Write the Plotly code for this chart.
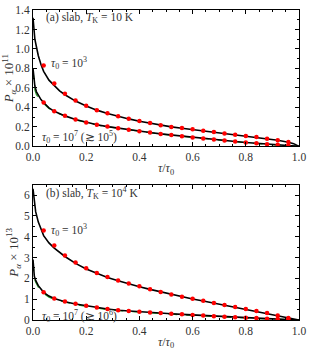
import plotly.graph_objects as go

# ---------------- data ----------------
# panel (a): P_alpha x 1e11, T_K = 10 K
a_curve_x = [0.0, 0.003, 0.007, 0.013, 0.02, 0.03, 0.04, 0.06, 0.08, 0.10, 0.12, 0.16, 0.20,
             0.24, 0.28, 0.32, 0.36, 0.40, 0.44, 0.48, 0.52, 0.56, 0.60, 0.64, 0.68, 0.72,
             0.76, 0.80, 0.84, 0.88, 0.92, 0.96, 0.98, 1.0]
a_hi_curve = [1.32, 1.20, 1.10, 1.02, 0.93, 0.84, 0.77, 0.68, 0.62, 0.57, 0.53, 0.465, 0.415,
              0.372, 0.338, 0.308, 0.282, 0.258, 0.238, 0.218, 0.200, 0.186, 0.172, 0.158, 0.145, 0.132,
              0.119, 0.106, 0.093, 0.078, 0.062, 0.042, 0.028, 0.0]
a_lo_curve = [0.80, 0.70, 0.62, 0.56, 0.52, 0.48, 0.45, 0.395, 0.36, 0.335, 0.313, 0.275, 0.245,
              0.222, 0.203, 0.186, 0.170, 0.155, 0.142, 0.128, 0.116, 0.104, 0.092, 0.081, 0.070, 0.060,
              0.050, 0.040, 0.031, 0.023, 0.015, 0.008, 0.004, 0.0]
a_green = [0.78, 0.66, 0.58, 0.53, 0.50, 0.47, 0.44, 0.39, 0.357, 0.333, 0.311, 0.273, 0.243,
           0.220, 0.201, 0.184, 0.168, 0.153, 0.140, 0.126, 0.114, 0.102, 0.090, 0.079, 0.068, 0.058,
           0.048, 0.038, 0.029, 0.021, 0.013, 0.006, 0.003, 0.0]

pts_x = [0.04, 0.08, 0.12, 0.16, 0.20, 0.24, 0.28, 0.32, 0.36, 0.40, 0.44, 0.48,
         0.52, 0.56, 0.60, 0.64, 0.68, 0.72, 0.76, 0.80, 0.84, 0.88, 0.92, 0.96]
a_hi_pts = [0.83, 0.645, 0.54, 0.47, 0.417, 0.37, 0.34, 0.31, 0.283, 0.26, 0.24, 0.217,
            0.200, 0.188, 0.175, 0.160, 0.148, 0.133, 0.120, 0.107, 0.095, 0.078, 0.063, 0.045]
a_lo_pts = [0.45, 0.36, 0.315, 0.275, 0.245, 0.222, 0.203, 0.186, 0.170, 0.155, 0.142, 0.128,
            0.116, 0.104, 0.092, 0.081, 0.070, 0.060, 0.050, 0.040, 0.031, 0.023, 0.016, 0.009]

# panel (b): P_alpha x 1e13, T_K = 1e4 K
b_curve_x = [0.0, 0.002, 0.005, 0.01, 0.02, 0.04, 0.06, 0.08, 0.12, 0.16, 0.20, 0.24, 0.28,
             0.32, 0.36, 0.40, 0.44, 0.48, 0.52, 0.56, 0.60, 0.64, 0.68, 0.72, 0.76, 0.80,
             0.84, 0.88, 0.92, 0.96, 1.0]
b_hi_curve = [6.3, 6.0, 5.7, 5.2, 4.7, 4.05, 3.70, 3.45, 3.05, 2.72, 2.45, 2.23, 2.04,
              1.88, 1.73, 1.60, 1.47, 1.35, 1.23, 1.12, 1.01, 0.91, 0.81, 0.72, 0.62, 0.53,
              0.43, 0.33, 0.22, 0.11, 0.0]
b_lo_curve = [2.9, 2.4, 2.1, 1.9, 1.65, 1.33, 1.15, 1.03, 0.88, 0.77, 0.68, 0.60, 0.53,
              0.47, 0.43, 0.39, 0.36, 0.33, 0.30, 0.27, 0.24, 0.21, 0.185, 0.16, 0.135, 0.11,
              0.09, 0.065, 0.045, 0.025, 0.0]
b_green = [2.8, 2.3, 2.0, 1.82, 1.58, 1.28, 1.10, 0.99, 0.85, 0.74, 0.65, 0.57, 0.50,
           0.45, 0.41, 0.37, 0.34, 0.31, 0.28, 0.25, 0.22, 0.19, 0.165, 0.14, 0.115, 0.09,
           0.07, 0.05, 0.03, 0.015, 0.0]
b_hi_pts = [4.3, 3.58, 3.10, 2.76, 2.48, 2.26, 2.07, 1.90, 1.75, 1.62, 1.48, 1.35,
            1.23, 1.12, 1.02, 0.92, 0.82, 0.72, 0.62, 0.53, 0.43, 0.33, 0.22, 0.10]
b_lo_pts = [1.33, 1.03, 0.89, 0.78, 0.68, 0.60, 0.53, 0.47, 0.43, 0.39, 0.36, 0.33,
            0.30, 0.27, 0.24, 0.21, 0.185, 0.16, 0.135, 0.11, 0.09, 0.065, 0.045, 0.025]

x_ticks = [0.0, 0.2, 0.4, 0.6, 0.8, 1.0]
x_ticklabels = ["0.0", "0.2", "0.4", "0.6", "0.8", "1.0"]
ya_ticks = [0.0, 0.2, 0.4, 0.6, 0.8, 1.0, 1.2, 1.4]
ya_ticklabels = ["0.0", "0.2", "0.4", "0.6", "0.8", "1.0", "1.2", "1.4"]
yb_ticks = [0, 1, 2, 3, 4, 5, 6]
yb_ticklabels = ["0", "1", "2", "3", "4", "5", "6"]

# ---------------- figure ----------------
FONT = "Liberation Serif, DejaVu Serif, serif"
fig = go.Figure()

def add_panel(xa, ya, cx, hi, lo, green, phi, plo):
    fig.add_trace(go.Scatter(x=cx, y=green, mode="lines", xaxis=xa, yaxis=ya,
                             line=dict(color="#2ca02c", width=1.3, dash="dash"), showlegend=False))
    for c in (hi, lo):
        fig.add_trace(go.Scatter(x=cx, y=c, mode="lines", xaxis=xa, yaxis=ya,
                                 line=dict(color="black", width=1.6), showlegend=False))
    for p in (phi, plo):
        fig.add_trace(go.Scatter(x=pts_x, y=p, mode="markers", xaxis=xa, yaxis=ya,
                                 marker=dict(color="red", size=4.5), showlegend=False))

add_panel("x", "y", a_curve_x, a_hi_curve, a_lo_curve, a_green, a_hi_pts, a_lo_pts)
add_panel("x2", "y2", b_curve_x, b_hi_curve, b_lo_curve, b_green, b_hi_pts, b_lo_pts)

axis_common = dict(showline=True, linecolor="black", linewidth=1, mirror="ticks",
                   ticks="inside", ticklen=4, tickcolor="black", showgrid=False, zeroline=False,
                   ticklabeloverflow="allow",
                   tickfont=dict(family=FONT, size=11.5, color="#333"))

xa = dict(axis_common, range=[0, 1.0], tickmode="array", tickvals=x_ticks, ticktext=x_ticklabels,
          minor=dict(dtick=0.05, ticks="inside", ticklen=2, tickcolor="black"),
          title=dict(text="<i>τ</i>/<i>τ</i><sub>0</sub>", font=dict(family=FONT, size=12, color="#333"),
                     standoff=1))

fig.update_layout(
    width=310, height=351, margin=dict(l=33, r=7, t=4, b=31),
    plot_bgcolor="white", paper_bgcolor="white",
    xaxis=dict(xa, anchor="y", domain=[0, 1]),
    yaxis=dict(axis_common, range=[0, 1.4], tickmode="array", tickvals=ya_ticks, ticktext=ya_ticklabels,
               domain=[0.5601, 1], anchor="x",
               minor=dict(dtick=0.1, ticks="inside", ticklen=2, tickcolor="black"),
               title=dict(text="<i>P</i><sub><i>α</i></sub> × 10<sup>11</sup>",
                          font=dict(family=FONT, size=13, color="#333"), standoff=2)),
    xaxis2=dict(xa, anchor="y2", domain=[0, 1]),
    yaxis2=dict(axis_common, range=[0, 6.5], tickmode="array", tickvals=yb_ticks, ticktext=yb_ticklabels,
                domain=[0, 0.4367], anchor="x2",
                minor=dict(dtick=0.5, ticks="inside", ticklen=2, tickcolor="black"),
                title=dict(text="<i>P</i><sub><i>α</i></sub> × 10<sup>13</sup>",
                           font=dict(family=FONT, size=13, color="#333"), standoff=2)),
)

ann_font = dict(family=FONT, size=11.5, color="#333")
anns = [
    ("x", "y", 0.04, 1.32, "(a) slab, <i>T</i><sub>K</sub> = 10 K"),
    ("x", "y", 0.06, 0.86, "<i>τ</i><sub>0</sub> = 10<sup>3</sup>"),
    ("x", "y", 0.025, 0.10, "<i>τ</i><sub>0</sub> = 10<sup>7</sup> (≳ 10<sup>5</sup>)"),
    ("x2", "y2", 0.04, 6.1, "(b) slab, <i>T</i><sub>K</sub> = 10<sup>4</sup> K"),
    ("x2", "y2", 0.06, 4.3, "<i>τ</i><sub>0</sub> = 10<sup>3</sup>"),
    ("x2", "y2", 0.025, 0.17, "<i>τ</i><sub>0</sub> = 10<sup>7</sup> (≳ 10<sup>6</sup>)"),
]
for xr, yr, x, y, t in anns:
    fig.add_annotation(xref=xr, yref=yr, x=x, y=y, text=t, showarrow=False,
                       xanchor="left", yanchor="middle", font=ann_font)

fig.write_html("out.html", config={"displayModeBar": False},
               post_script="document.body.style.margin='0';document.body.style.overflow='hidden';")
